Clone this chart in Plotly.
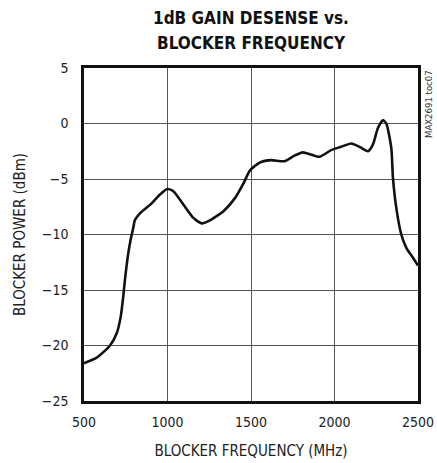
import plotly.graph_objects as go

freq_mhz = [500, 576, 656, 696, 720, 735, 745, 765, 780, 795, 805, 835, 905, 955, 999, 1035,
            1095, 1155, 1205, 1245, 1335, 1405, 1455, 1495, 1555, 1620, 1700, 1760, 1810,
            1860, 1910, 1980, 2040, 2100, 2150, 2200, 2230, 2260, 2290, 2310, 2340, 2350,
            2370, 2400, 2430, 2470, 2500]
power_dbm = [-21.6, -21.1, -20.0, -18.9, -17.4, -15.6, -14.1, -11.7, -10.4, -9.4, -8.7, -8.1,
             -7.2, -6.4, -5.9, -6.1, -7.3, -8.5, -9.0, -8.8, -7.9, -6.7, -5.4, -4.2, -3.5,
             -3.3, -3.4, -2.9, -2.6, -2.8, -3.0, -2.4, -2.1, -1.8, -2.1, -2.5, -1.9, -0.4,
             0.3, 0.0, -2.2, -4.9, -7.6, -10.0, -11.2, -12.1, -12.8]

x_ticks = [500, 1000, 1500, 2000, 2500]
y_ticks = [5, 0, -5, -10, -15, -20, -25]
title_lines = ["1dB GAIN DESENSE vs.", "BLOCKER FREQUENCY"]

FONT = "DejaVu Sans Condensed, Liberation Sans Narrow, Arial Narrow, Liberation Sans, sans-serif"

fig = go.Figure()
fig.add_trace(go.Scatter(x=freq_mhz, y=power_dbm, mode="lines",
                         line=dict(color="#111111", width=2.6, shape="spline", smoothing=0.6),
                         showlegend=False, hoverinfo="skip"))

fig.update_layout(
    width=437, height=463,
    margin=dict(l=84, r=19, t=68, b=62, autoexpand=False),
    paper_bgcolor="white", plot_bgcolor="white",
    font=dict(family=FONT, color="#222222", size=14),
    xaxis=dict(range=[500, 2500], tickvals=x_ticks, ticks="", showgrid=True,
               gridcolor="#555555", gridwidth=1, zeroline=False, automargin=False,
               showline=True, linecolor="#111111", linewidth=2.5, mirror=True,
               title=dict(text="BLOCKER FREQUENCY (MHz)", standoff=17, font=dict(size=15)),
               tickfont=dict(size=14), ticklabelstandoff=6),
    yaxis=dict(range=[-25, 5], tickvals=y_ticks, ticks="", showgrid=True,
               gridcolor="#555555", gridwidth=1, zeroline=False, automargin=False,
               showline=True, linecolor="#111111", linewidth=2.5, mirror=True,
               title=dict(text="BLOCKER POWER (dBm)", standoff=13, font=dict(size=15)),
               tickfont=dict(size=14), ticklabelstandoff=10),
)

for i, line in enumerate(title_lines):
    fig.add_annotation(text="<b>" + line + "</b>", xref="paper", yref="paper",
                       x=0.5, y=1.0, yshift=50 - 25 * i, xanchor="center", yanchor="middle",
                       showarrow=False, font=dict(size=17, color="#111111", family=FONT))

fig.add_annotation(text="MAX2691 toc07", xref="paper", yref="paper", x=1.0, y=1.0,
                   xshift=10, xanchor="center", yanchor="top", textangle=-90,
                   showarrow=False, font=dict(size=9.5, color="#333333", family=FONT))

fig.write_html("out.html", config={"displayModeBar": False},
               post_script="document.body.style.margin='0';document.body.style.padding='0';")
